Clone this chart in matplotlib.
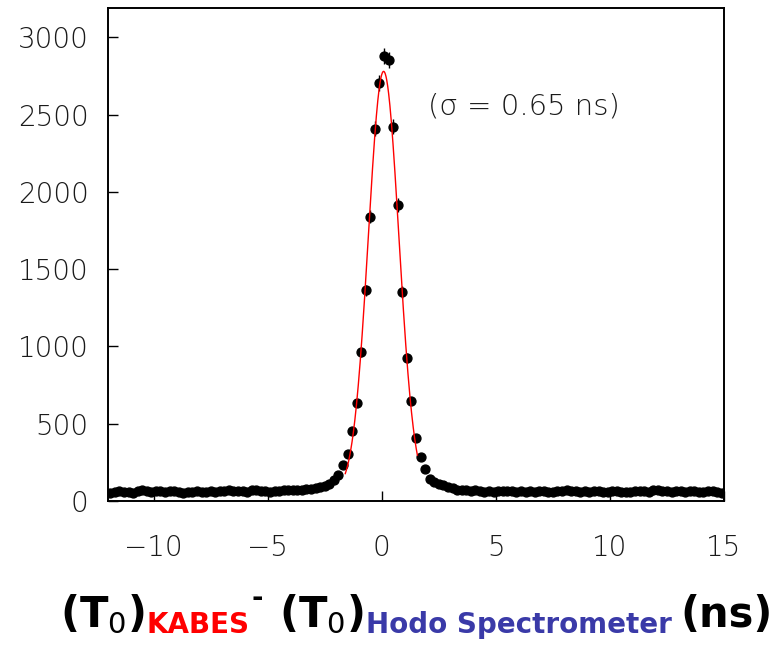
import numpy as np
import matplotlib
matplotlib.use("Agg")
import matplotlib.pyplot as plt

plt.rcParams["mathtext.default"] = "regular"

# histogram: 0.2 ns bins from -12 to 15 ns
bin_lo, bin_hi, bin_w = -12.0, 15.0, 0.2
counts = [
    # -11.9 .. -10.1
    50, 60, 62, 58, 60, 55, 62, 68, 63, 60,
    # -9.9 .. -8.1
    64, 66, 60, 62, 65, 57, 55, 58, 60, 62,
    # -7.9 .. -6.1
    58, 60, 63, 56, 62, 66, 70, 64, 62, 66,
    # -5.9 .. -4.1
    60, 68, 72, 64, 62, 58, 62, 66, 70, 72,
    # -3.9 .. -2.1
    70, 74, 72, 78, 76, 84, 92, 98, 112, 135,
    # -1.9 .. 2.1 (peak)
    168, 233, 303, 452, 631, 961, 1363, 1839, 2409, 2707,
    2880, 2855, 2422, 1916, 1353, 925, 650, 406, 287, 209, 141,
    # 2.3 .. 3.7
    125, 112, 102, 92, 82, 74, 70, 72,
    # 3.9 .. 5.3
    66, 68, 62, 60, 66, 58, 64, 66,
    # 5.5 .. 6.9
    62, 65, 60, 62, 58, 64, 56, 62,
    # 7.1 .. 8.5
    65, 60, 58, 62, 66, 70, 64, 62,
    # 8.7 .. 10.1
    58, 64, 60, 62, 66, 58, 60, 62,
    # 10.3 .. 11.7
    64, 60, 56, 58, 62, 66, 64, 60,
    # 11.9 .. 13.3
    68, 70, 64, 62, 60, 66, 62, 58,
    # 13.5 .. 14.9
    64, 66, 60, 56, 62, 66, 60, 52,
]
centers = bin_lo + bin_w / 2 + bin_w * np.arange(len(counts))
counts = np.array(counts, dtype=float)

# gaussian + flat background fit
fit_amp, fit_mean, fit_sigma, fit_bkg = 2720.0, 0.08, 0.67, 60.0
fit_range = (-1.6, 1.56)

x_ticks = [-10, -5, 0, 5, 10, 15]
y_ticks = [0, 500, 1000, 1500, 2000, 2500, 3000]

W, H = 776, 645
fig = plt.figure(figsize=(W / 100, H / 100), dpi=100)
ax = fig.add_axes([108 / W, 1 - 501 / H, 616 / W, 493 / H])

ax.errorbar(centers, counts, yerr=np.sqrt(counts), fmt="o", color="black",
            ms=6.4, elinewidth=1.0, capsize=0, zorder=3)

xf = np.linspace(fit_range[0], fit_range[1], 300)
yf = fit_amp * np.exp(-0.5 * ((xf - fit_mean) / fit_sigma) ** 2) + fit_bkg
ax.plot(xf, yf, color="red", lw=1.0, zorder=4)

ax.set_xlim(bin_lo, bin_hi)
ax.set_ylim(0, 3190)
ax.set_xticks(x_ticks)
ax.set_yticks(y_ticks)
ax.tick_params(direction="in", length=7, width=1.0, top=False, right=False,
               labelsize=20, labelcolor="#1a1a1a")
ax.tick_params(axis="x", pad=24)
ax.tick_params(axis="y", pad=14)
for lab in ax.get_xticklabels() + ax.get_yticklabels():
    lab.set_fontweight("light")
for sp in ax.spines.values():
    sp.set_linewidth(1.4)

ax.text(0.52, 0.8, "(σ = 0.65 ns)", transform=ax.transAxes, fontsize=21,
        fontweight="light", color="#1a1a1a", ha="left", va="center")

# composite axis title below the plot
pieces = [
    (r"(T$\mathrm{_0}$)", 30, "black", 627, 0),
    ("KABES", 20, "#ff0000", 633, 2),
    ("-", 20, "black", 606, 2),
    (r"(T$\mathrm{_0}$)", 30, "black", 627, 16),
    ("Hodo Spectrometer", 20, "#3a3aa8", 633, 2),
    ("(ns)", 30, "black", 627, 8),
]
renderer = fig.canvas.get_renderer()
x_px = 60
for txt, size, col, base, gap in pieces:
    x_px += gap
    t = fig.text(x_px / W, 1 - base / H, txt, fontsize=size, color=col,
                 fontweight="bold", ha="left", va="baseline")
    x_px = t.get_window_extent(renderer).x1

fig.savefig("out.png", dpi=100)
